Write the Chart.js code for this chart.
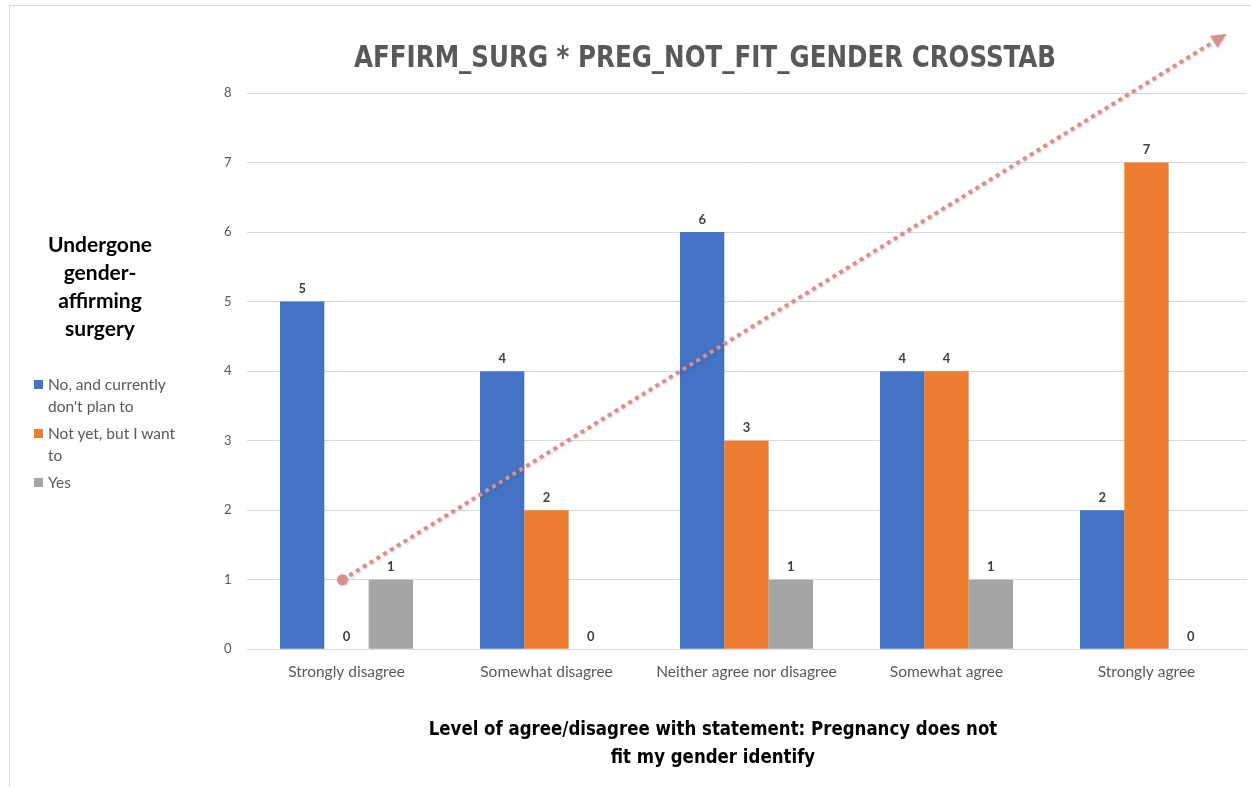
<html>
<head>
  <title>AFFIRM_SURG * PREG_NOT_FIT_GENDER CROSSTAB</title>
  <style>
    body { margin: 0; background: #fff; }
    #wrap { position: relative; width: 1251px; height: 787px; overflow: hidden; }
    #chart { position: absolute; left: 0; top: 0; }
    #frame { position: absolute; left: 9px; top: 5px; width: 1300px; height: 900px;
             border-left: 1px solid #d9d9d9; border-top: 1px solid #d9d9d9; }
    .narrow { font-family: "Liberation Sans Narrow", "DejaVu Sans Condensed", "Arial Narrow", sans-serif; font-weight: bold; }
    #title { position: absolute; left: 305px; width: 800px; top: 38px; text-align: center;
             font-size: 30px; color: #595959; line-height: 38px; white-space: nowrap;
             transform: scaleX(0.91); }
    #xtitle { position: absolute; left: 313px; width: 800px; top: 714px; text-align: center;
              font-size: 20px; color: #000; line-height: 28px; white-space: nowrap;
              transform: scaleX(0.923); }
    #legend { position: absolute; left: 20px; top: 230px; width: 175px; font-family: Lato, sans-serif; }
    #legend h4 { margin: 0; text-align: center; font-size: 21px; line-height: 28px; color: #000; width: 160px; }
    #legend ul { list-style: none; margin: 32px 0 0 0; padding: 0; }
    #legend li { position: relative; padding-left: 28px; font-size: 15.5px; line-height: 21.5px; color: #595959; margin-bottom: 6px; }
    #legend li span { position: absolute; left: 14px; top: 6px; width: 9px; height: 9px; }
  </style>
</head>
<body>

<div id="wrap">
  <div id="frame"></div>
  <canvas id="chart" width="1251" height="787"></canvas>
  <div id="title" class="narrow">AFFIRM_SURG * PREG_NOT_FIT_GENDER CROSSTAB</div>
  <div id="legend">
    <h4>Undergone<br>gender-<br>affirming<br>surgery</h4>
    <ul id="legendItems"></ul>
  </div>
  <div id="xtitle" class="narrow">Level of agree/disagree with statement: Pregnancy does not<br>fit my gender identify</div>
</div>

<script src="https://cdn.jsdelivr.net/npm/chart.js@4"></script>
<script>

const categories = ['Strongly disagree', 'Somewhat disagree', 'Neither agree nor disagree', 'Somewhat agree', 'Strongly agree'];

// legend text, with the line breaks of the original legend box
const seriesNames = ["No, and currently don't plan to", 'Not yet, but I want to', 'Yes'];
const legendLines = [["No, and currently", "don't plan to"], ['Not yet, but I want', 'to'], ['Yes']];

const noPlan = [5, 4, 6, 4, 2];
const notYet = [0, 2, 3, 4, 7];
const yes    = [1, 0, 1, 1, 0];

const yTicks = [0, 1, 2, 3, 4, 5, 6, 7, 8];

// hand-drawn trend arrow, in data units (category index, value)
const arrowFrom = [-0.02, 1];
const arrowTo   = [4.4, 8.85];

const colors = ['#4472C4', '#ED7D31', '#A5A5A5'];

// html legend
const ul = document.getElementById('legendItems');
legendLines.forEach((lines, i) => {
  const li = document.createElement('li');
  const sw = document.createElement('span');
  sw.style.background = colors[i];
  li.appendChild(sw);
  lines.forEach((t, k) => {
    if (k > 0) li.appendChild(document.createElement('br'));
    li.appendChild(document.createTextNode(t));
  });
  ul.appendChild(li);
});

const valueLabels = {
  id: 'valueLabels',
  afterDatasetsDraw(chart) {
    const ctx = chart.ctx;
    ctx.save();
    ctx.font = 'bold 13px Lato, sans-serif';
    ctx.fillStyle = '#404040';
    ctx.textAlign = 'center';
    ctx.textBaseline = 'bottom';
    chart.data.datasets.forEach((ds, di) => {
      chart.getDatasetMeta(di).data.forEach((bar, i) => {
        ctx.fillText(ds.data[i], bar.x, bar.y - 6);
      });
    });
    ctx.restore();
  }
};

const trendArrow = {
  id: 'trendArrow',
  afterDatasetsDraw(chart) {
    const x = chart.scales.x, y = chart.scales.y;
    const x0 = x.getPixelForValue(arrowFrom[0]), y0 = y.getPixelForValue(arrowFrom[1]);
    const x1 = x.getPixelForValue(arrowTo[0]),   y1 = y.getPixelForValue(arrowTo[1]);
    const ang = Math.atan2(y1 - y0, x1 - x0);
    const headLen = 15, headW = 7;
    const bx = x1 - headLen * Math.cos(ang), by = y1 - headLen * Math.sin(ang);
    const ctx = chart.ctx;
    ctx.save();
    ctx.shadowColor = 'rgba(0,0,0,0.18)';
    ctx.shadowBlur = 3;
    ctx.shadowOffsetX = 1;
    ctx.shadowOffsetY = 1;
    ctx.strokeStyle = '#D6908F';
    ctx.fillStyle = '#D6908F';
    ctx.lineWidth = 4;
    ctx.setLineDash([4, 4]);
    ctx.beginPath();
    ctx.moveTo(x0, y0);
    ctx.lineTo(bx, by);
    ctx.stroke();
    ctx.setLineDash([]);
    ctx.beginPath();
    ctx.arc(x0, y0, 5.5, 0, Math.PI * 2);
    ctx.fill();
    ctx.beginPath();
    ctx.moveTo(x1, y1);
    ctx.lineTo(bx + headW * Math.sin(ang), by - headW * Math.cos(ang));
    ctx.lineTo(bx - headW * Math.sin(ang), by + headW * Math.cos(ang));
    ctx.closePath();
    ctx.fill();
    ctx.restore();
  }
};

new Chart(document.getElementById('chart'), {
  type: 'bar',
  data: {
    labels: categories,
    datasets: [
      { label: seriesNames[0], data: noPlan, backgroundColor: colors[0] },
      { label: seriesNames[1], data: notYet, backgroundColor: colors[1] },
      { label: seriesNames[2], data: yes,    backgroundColor: colors[2] },
    ],
  },
  options: {
    responsive: false,
    animation: false,
    categoryPercentage: 0.665,
    barPercentage: 1,
    layout: { padding: { left: 0, right: 4.5, top: 93, bottom: 0 } },
    plugins: {
      legend: { display: false },
      title: { display: false },
      tooltip: { enabled: false },
    },
    scales: {
      x: {
        grid: { display: false, drawTicks: false },
        border: { display: false },
        ticks: { color: '#595959', font: { family: 'Lato', size: 15.5 }, padding: 13, maxRotation: 0, autoSkip: false },
        afterFit(scale) { scale.height = 137.7; },
      },
      y: {
        min: 0,
        max: 8,
        afterBuildTicks(scale) { scale.ticks = yTicks.map(v => ({ value: v })); },
        grid: { color: '#d9d9d9', drawTicks: false },
        border: { display: false },
        ticks: { color: '#595959', font: { family: 'Lato', size: 13 }, padding: 15 },
        afterFit(scale) { scale.width = 246.5; },
      }
    }
  },
  plugins: [valueLabels, trendArrow]
});

</script>

</body>
</html>
